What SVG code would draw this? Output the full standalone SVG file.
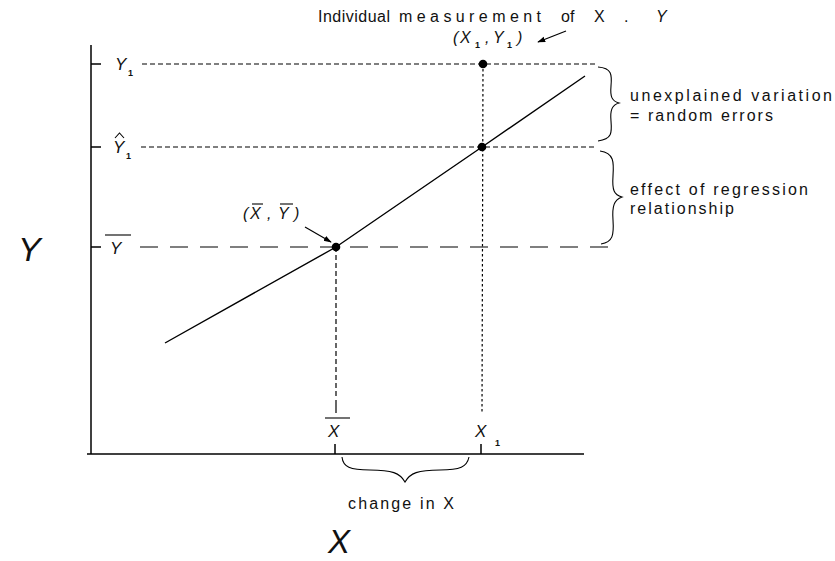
<svg xmlns="http://www.w3.org/2000/svg" width="835" height="561" viewBox="0 0 835 561">
<defs>
<marker id="ah" viewBox="0 0 10 10" refX="9" refY="5" markerWidth="8" markerHeight="8" orient="auto-start-reverse" markerUnits="userSpaceOnUse">
<path d="M0,1.5 L10,5 L0,8.5 z" fill="#000"/>
</marker>
</defs>
<style>
.t{font-family:"Liberation Sans",Arial,sans-serif;fill:#111;}
.i{font-family:"Liberation Sans",Arial,sans-serif;font-style:italic;fill:#111;}
.s{font-family:"Liberation Sans",Arial,sans-serif;fill:#111;font-size:9px;font-weight:bold;}
.ax{stroke:#000;stroke-width:1.5;fill:none;}
.sd{stroke:#000;stroke-width:1.2;stroke-dasharray:5,3;fill:none;}
.ld{stroke:#000;stroke-width:1.2;stroke-dasharray:18,12;fill:none;}
.dt{stroke:#000;stroke-width:1.2;stroke-dasharray:2.5,2.5;fill:none;}
.br{stroke:#000;stroke-width:1.1;fill:none;}
</style>
<rect width="835" height="561" fill="#fff"/>
<g id="axes">
<line class="ax" x1="91" y1="45" x2="91" y2="454"/>
<line class="ax" x1="87" y1="454" x2="584" y2="454"/>
<line class="ax" x1="91" y1="64" x2="101" y2="64"/>
<line class="ax" x1="91" y1="147" x2="101" y2="147"/>
<line class="ax" x1="91" y1="247" x2="101" y2="247"/>
<line class="ax" x1="335" y1="444" x2="335" y2="454"/>
<line class="ax" x1="481" y1="444" x2="481" y2="454"/>
</g>
<g id="connectors">
<line class="sd" x1="142" y1="64" x2="597" y2="64"/>
<line class="sd" x1="141" y1="147" x2="597" y2="147"/>
<line class="ld" x1="140" y1="247" x2="610" y2="247"/>
<line class="dt" x1="483" y1="64" x2="482" y2="413"/>
<line class="sd" x1="336" y1="247" x2="336" y2="398"/>
<line class="ax" x1="336" y1="400" x2="336" y2="413" style="stroke-width:1.2"/>
<polyline class="ax" points="165,343 336,247 482,147 585,76" style="stroke-width:1.4"/>
<line class="ax" x1="305" y1="227" x2="331" y2="242" style="stroke-width:1.2" marker-end="url(#ah)"/>
<line class="ax" x1="566" y1="31" x2="538" y2="42" style="stroke-width:1.2" marker-end="url(#ah)"/>
<path class="br" d="M598,67 C612,68 612,75 611,86 C610,97 612,101 619,103 C612,105 610,110 611,121 C612,133 612,139 598,141"/>
<path class="br" d="M600,151 C614,153 614,162 613,176 C612,190 614,195 622,197 C614,200 612,206 613,220 C614,235 613,242 601,244"/>
<path class="br" d="M342,457 C343,467 350,470 370,470 C392,470 400,473 405,482 C410,473 418,470 440,470 C460,470 467,467 469,457"/>
</g>
<g id="points">
<circle cx="483" cy="64" r="4.3" fill="#000"/>
<circle cx="482" cy="147" r="4.3" fill="#000"/>
<circle cx="336" cy="247" r="4.3" fill="#000"/>
</g>
<g id="labels">
<text class="t" y="22" font-size="16"><tspan x="318" textLength="72" lengthAdjust="spacing">Individual</tspan><tspan x="399" textLength="142" lengthAdjust="spacing">measurement</tspan><tspan x="561">of</tspan><tspan x="594">X</tspan><tspan x="624">.</tspan><tspan x="656" font-style="italic">Y</tspan></text>
<text class="i" y="43" font-size="16"><tspan x="453">(</tspan><tspan x="460">X</tspan><tspan x="485">,</tspan><tspan x="493">Y</tspan><tspan x="517">)</tspan></text>
<text class="s" x="475" y="48">1</text><text class="s" x="507" y="48">1</text>
<text class="i" x="115" y="70" font-size="17">Y</text><text class="s" x="128" y="76">1</text>
<text class="i" x="113" y="153" font-size="17">Y</text><text class="s" x="126" y="159">1</text>
<path class="br" d="M115,138 L119.5,133 L124,138"/>
<text class="i" x="110" y="254" font-size="17">Y</text>
<line class="br" x1="105" y1="235" x2="131" y2="235"/>
<text class="i" y="219" font-size="16"><tspan x="243">(</tspan><tspan x="250">X</tspan><tspan x="267">,</tspan><tspan x="278">Y</tspan><tspan x="294">)</tspan></text>
<line class="br" x1="252" y1="204" x2="263" y2="204"/>
<line class="br" x1="280" y1="204" x2="293" y2="204"/>
<text class="i" x="328" y="437" font-size="17">X</text>
<line class="br" x1="325" y1="418" x2="350" y2="418"/>
<text class="i" x="475" y="437" font-size="17">X</text><text class="s" x="495" y="446">1</text>
<text class="t" x="630" y="101" font-size="16" textLength="202" lengthAdjust="spacing">unexplained variation</text>
<text class="t" x="630" y="121" font-size="16" textLength="143" lengthAdjust="spacing">= random errors</text>
<text class="t" x="630" y="195" font-size="16" textLength="178" lengthAdjust="spacing">effect of regression</text>
<text class="t" x="630" y="214" font-size="16" textLength="104" lengthAdjust="spacing">relationship</text>
<text class="t" x="348" y="509" font-size="16" textLength="106" lengthAdjust="spacing">change in X</text>
<text class="i" x="328" y="553" font-size="33">X</text>
<text class="i" x="18" y="261" font-size="34">Y</text>
</g>
</svg>
